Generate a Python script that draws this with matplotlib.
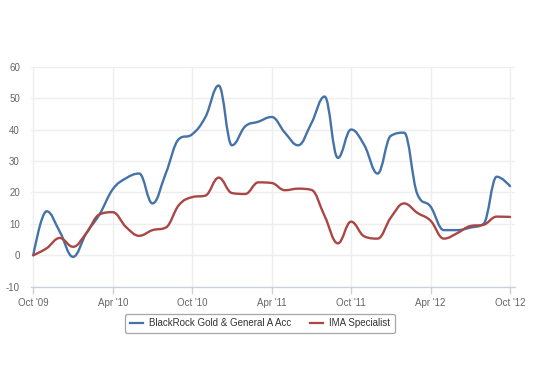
import matplotlib
matplotlib.use("Agg")
import matplotlib.pyplot as plt
from matplotlib.path import Path
from matplotlib.patches import PathPatch
from matplotlib.lines import Line2D
import numpy as np

plt.rcParams['font.family'] = ['Liberation Sans', 'DejaVu Sans']

tick_labels = ["Oct '09", "Apr '10", "Oct '10", "Apr '11", "Oct '11", "Apr '12", "Oct '12"]
y_ticks = [-10, 0, 10, 20, 30, 40, 50, 60]

blackrock = [0, 14, 7.5, -0.5, 7, 13, 21, 24.5, 26, 16.5, 26, 37, 38.5, 44, 54,
             35, 41, 42.5, 44, 39, 35, 42, 50.5, 31, 40, 35, 26, 38, 39, 19.5,
             15.5, 8, 8, 8.8, 10, 25, 22]
ima = [0, 2.2, 5.5, 2.7, 7, 13, 13.7, 9, 6.2, 8, 8.8, 16, 18.5, 19, 24.7,
       19.8, 19.5, 23.2, 23, 20.7, 21.2, 20.8, 12.5, 3.8, 10.7, 6, 5.3, 12, 16.5,
       13.5, 11, 5.3, 7, 9.3, 9.7, 12.3, 12.2]

names = ["BlackRock Gold & General A Acc", "IMA Specialist"]
colors = ["#4572A7", "#AA4643"]


def spline_path(xs, ys, smoothing=1.5):
    """Highcharts-style spline as cubic bezier path."""
    n = len(xs)
    denom = smoothing + 1
    lc = [None] * n
    rc = [None] * n
    for i in range(n):
        x, y = xs[i], ys[i]
        if 0 < i < n - 1:
            lx, ly = xs[i - 1], ys[i - 1]
            nx, ny = xs[i + 1], ys[i + 1]
            lcx = (smoothing * x + lx) / denom
            lcy = (smoothing * y + ly) / denom
            rcx = (smoothing * x + nx) / denom
            rcy = (smoothing * y + ny) / denom
            if rcx != lcx:
                corr = ((rcy - lcy) * (rcx - x)) / (rcx - lcx) + y - rcy
                lcy += corr
                rcy += corr
            if lcy > ly and lcy > y:
                lcy = max(ly, y)
                rcy = 2 * y - lcy
            elif lcy < ly and lcy < y:
                lcy = min(ly, y)
                rcy = 2 * y - lcy
            if rcy > ny and rcy > y:
                rcy = max(ny, y)
                lcy = 2 * y - rcy
            elif rcy < ny and rcy < y:
                rcy = min(ny, y)
                lcy = 2 * y - rcy
            lc[i] = (lcx, lcy)
            rc[i] = (rcx, rcy)
        else:
            lc[i] = (x, y)
            rc[i] = (x, y)
    verts = [(xs[0], ys[0])]
    codes = [Path.MOVETO]
    for i in range(1, n):
        verts += [rc[i - 1], lc[i], (xs[i], ys[i])]
        codes += [Path.CURVE4] * 3
    return Path(verts, codes)


fig = plt.figure(figsize=(5.36, 3.75), dpi=100)
W, H = 536, 375
left_px, right_px, top_px, bot_px = 31, 515, 66.7, 286.7
ax = fig.add_axes([left_px / W, 1 - bot_px / H, (right_px - left_px) / W, (bot_px - top_px) / H])

x0_px, x36_px = 33.3, 510
ppm = (x36_px - x0_px) / 36
ax.set_xlim(-(x0_px - left_px) / ppm, 36 + (right_px - x36_px) / ppm)
ax.set_ylim(-10, 60)

months = np.arange(len(blackrock))
for data, c in zip([blackrock, ima], colors):
    p = spline_path(list(months.astype(float)), list(map(float, data)))
    ax.add_patch(PathPatch(p, facecolor='none', edgecolor=c, lw=1.7, zorder=3,
                           capstyle='round', joinstyle='round'))

ax.set_yticks(y_ticks)
ax.set_yticklabels([str(v) for v in y_ticks])
ax.set_xticks(np.arange(0, 37, 6))
ax.set_xticklabels(tick_labels)

for s in ['top', 'right', 'left']:
    ax.spines[s].set_visible(False)
ax.spines['bottom'].set_color('#C8D2DC')
ax.spines['bottom'].set_linewidth(1)

ax.grid(True, axis='y', color='#EEEEEE', lw=1, zorder=0)
ax.grid(True, axis='x', color='#EEEEEE', lw=1, zorder=0)
ax.tick_params(axis='y', length=0, pad=8, labelsize=7, labelcolor='#666666')
ax.tick_params(axis='x', length=5, width=1, color='#C8D2DC', pad=3,
               labelsize=7, labelcolor='#666666')
ax.set_axisbelow(True)

handles = [Line2D([0], [0], color=c, lw=1.6) for c in colors]
leg = fig.legend(handles, names, loc='center', bbox_to_anchor=(260 / W, 1 - 323.5 / H),
                 ncol=2, fontsize=7, frameon=True, handlelength=1.3,
                 handletextpad=0.6, columnspacing=2.0, borderpad=0.5, fancybox=True)
leg.get_frame().set_edgecolor('#909090')
leg.get_frame().set_linewidth(0.9)
for t in leg.get_texts():
    t.set_color('#333333')

fig.savefig("out.png", dpi=100)
